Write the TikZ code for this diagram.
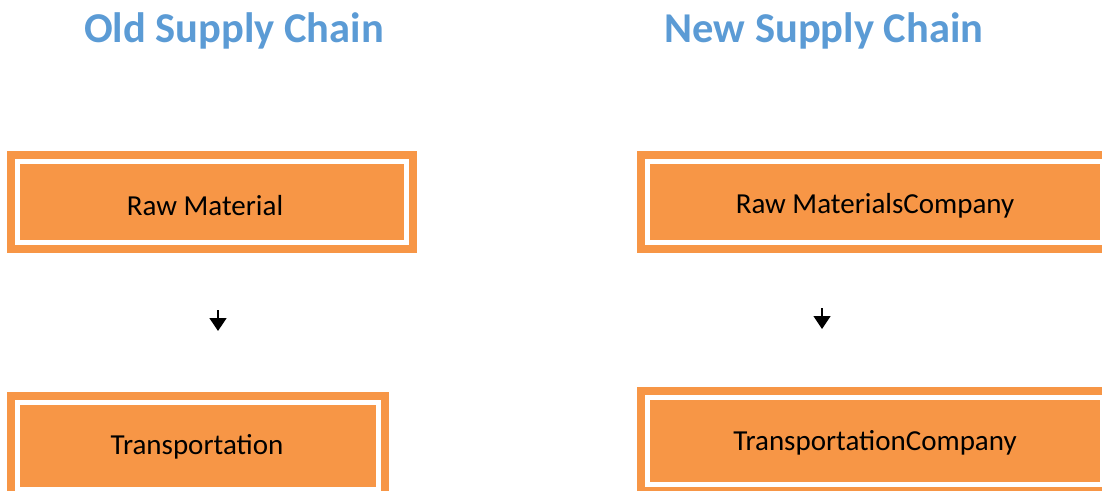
\documentclass[tikz,border=0pt]{standalone}
\usepackage{fontspec}
\setmainfont{Carlito}
\usetikzlibrary{arrows.meta}
\definecolor{boxorange}{HTML}{F79646}
\definecolor{titleblue}{HTML}{5B9BD5}
\tikzset{
  chainbox/.style={fill=boxorange, draw=none, inner sep=0pt},
  boxtext/.style={inner sep=0pt, font=\fontsize{29}{32}\selectfont, text=black},
  innerframe/.style={draw=white, line width=4.5pt},
  title/.style={font=\bfseries\fontsize{42.5}{46}\selectfont, text=titleblue},
  flowarrow/.style={line width=1.4pt, -{Triangle[width=17pt,length=13pt]}}
}
\begin{document}
\begin{tikzpicture}[x=1pt,y=-1pt]
\useasboundingbox (0,0) rectangle (1102,490);
\clip (0,0) rectangle (1102,490);
\node[title] (t1) at (234,31) {Old Supply Chain};
\node[title] (t2) at (824,31) {New Supply Chain};

\node[chainbox, minimum width=410pt, minimum height=102pt] (a) at (212,202) {};
\node[chainbox, minimum width=382pt, minimum height=108pt] (b) at (198,446) {};
\node[chainbox, minimum width=476pt, minimum height=102pt] (c) at (875,202) {};
\node[chainbox, minimum width=476pt, minimum height=108pt] (d) at (875,441) {};

\foreach \n in {a,b,c,d}{
  \draw[innerframe] ([xshift=10.5pt,yshift=-10.5pt]\n.north west) rectangle ([xshift=-10.5pt,yshift=10.5pt]\n.south east);
}

\node[boxtext] (ta) at (205,206) {Raw Material};
\node[boxtext] (tb) at (197,447) {Transportation};
\node[boxtext] (tc) at (875,206) {Raw MaterialsCompany};
\node[boxtext] (td) at (875,443) {TransportationCompany};

\coordinate (a1s) at (218,310);
\coordinate (a1e) at (218,331);
\coordinate (a2s) at (822,308);
\coordinate (a2e) at (822,329);
\draw[flowarrow] (a1s) -- (a1e);
\draw[flowarrow] (a2s) -- (a2e);
\end{tikzpicture}
\end{document}
